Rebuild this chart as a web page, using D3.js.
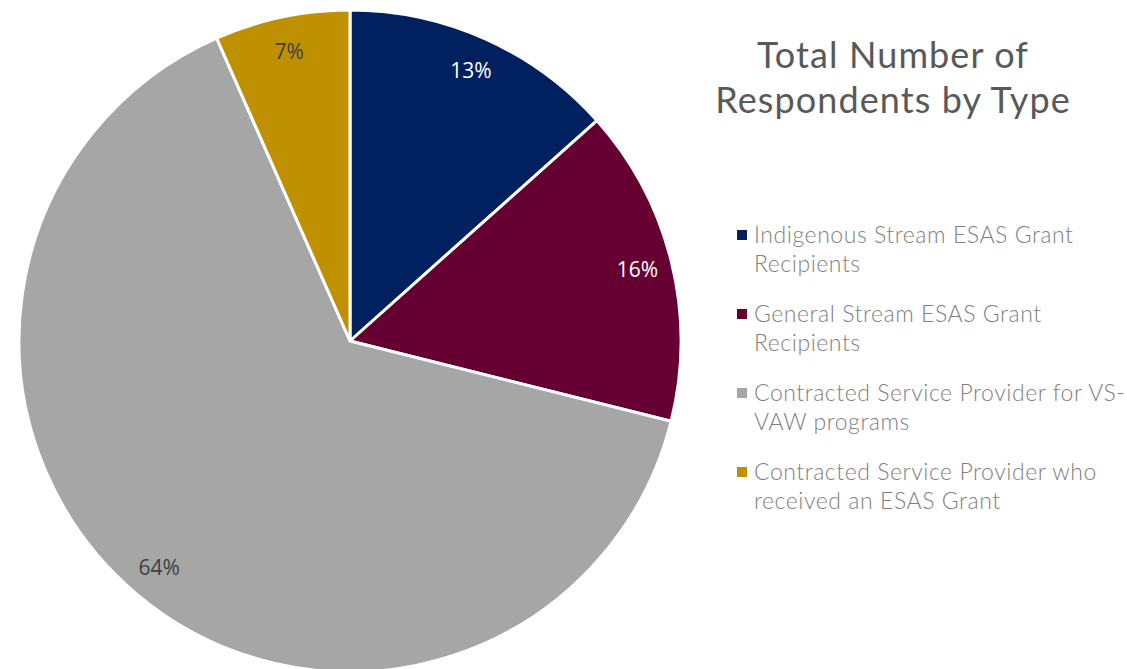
<!DOCTYPE html>
<html>
<head>
<meta charset="utf-8">
<script src="https://cdn.jsdelivr.net/npm/d3@7"></script>
<style>
  body { margin: 0; background: #fff; }
</style>
</head>
<body>
<div class="chart"></div>
<script>
const categories = [
  "Indigenous Stream ESAS Grant Recipients",
  "General Stream ESAS Grant Recipients",
  "Contracted Service Provider for VS-VAW programs",
  "Contracted Service Provider who received an ESAS Grant"
]
const values = [13.4, 15.5, 64.5, 6.6]
const labels = ["13%", "16%", "64%", "7%"]
const colors = ["#002060", "#660033", "#A6A6A6", "#BF9000"]
const labelColors = ["#ffffff", "#ffffff", "#404040", "#404040"]
// legend text split into lines as in the picture
const legendLines = [
  ["Indigenous Stream ESAS Grant", "Recipients"],
  ["General Stream ESAS Grant", "Recipients"],
  ["Contracted Service Provider for VS-", "VAW programs"],
  ["Contracted Service Provider who", "received an ESAS Grant"]
]

const width = 1127, height = 669
const cx = 350, cy = 341, radius = 331

const svg = d3.select(".chart").append("svg")
    .attr("width", width)
    .attr("height", height)

const data = categories.map((c, i) => ({name: c, value: values[i], i: i}))

const pie = d3.pie()
    .sort(null)
    .value(d => d.value)

const arc = d3.arc()
    .innerRadius(0)
    .outerRadius(radius)

const labelArc = d3.arc()
    .innerRadius(296)
    .outerRadius(296)

const g = svg.append("g")
    .attr("transform", "translate(" + cx + "," + cy + ")")

const arcs = pie(data)

g.selectAll(".slice")
    .data(arcs)
    .enter()
    .append("path")
    .attr("class", "slice")
    .attr("d", arc)
    .attr("fill", d => colors[d.data.i])
    .attr("stroke", "#fff")
    .attr("stroke-width", 3)
    .attr("stroke-linejoin", "round")

g.selectAll(".lbl")
    .data(arcs)
    .enter()
    .append("text")
    .attr("class", "lbl")
    .attr("transform", d => "translate(" + labelArc.centroid(d) + ")")
    .attr("text-anchor", "middle")
    .attr("dy", "0.35em")
    .attr("font-family", "Open Sans, sans-serif")
    .attr("font-size", 21)
    .attr("fill", d => labelColors[d.data.i])
    .text(d => labels[d.data.i])

// title
const title = svg.append("text")
    .attr("text-anchor", "middle")
    .attr("font-family", "Lato, sans-serif")
    .attr("font-size", 36)
    .attr("letter-spacing", 1.1)
    .attr("fill", "#595959")
title.append("tspan").attr("x", 893).attr("y", 68).text("Total Number of")
title.append("tspan").attr("x", 893).attr("y", 113).text("Respondents by Type")

// legend
const legend = svg.selectAll(".legend")
    .data(data)
    .enter()
    .append("g")
    .attr("class", "legend")
    .attr("transform", d => "translate(737," + (235 + d.i * 79) + ")")

legend.append("rect")
    .attr("x", 0)
    .attr("y", -5)
    .attr("width", 10)
    .attr("height", 10)
    .attr("fill", d => colors[d.i])

const lt = legend.append("text")
    .attr("font-family", "Lato, sans-serif")
    .attr("font-weight", 300)
    .attr("font-size", 23)
    .attr("letter-spacing", 0.55)
    .attr("fill", "#7F7F7F")

lt.selectAll("tspan")
    .data(d => legendLines[d.i])
    .enter()
    .append("tspan")
    .attr("x", 17)
    .attr("y", (d, j) => 8 + j * 29)
    .text(d => d)
</script>
</body>
</html>
